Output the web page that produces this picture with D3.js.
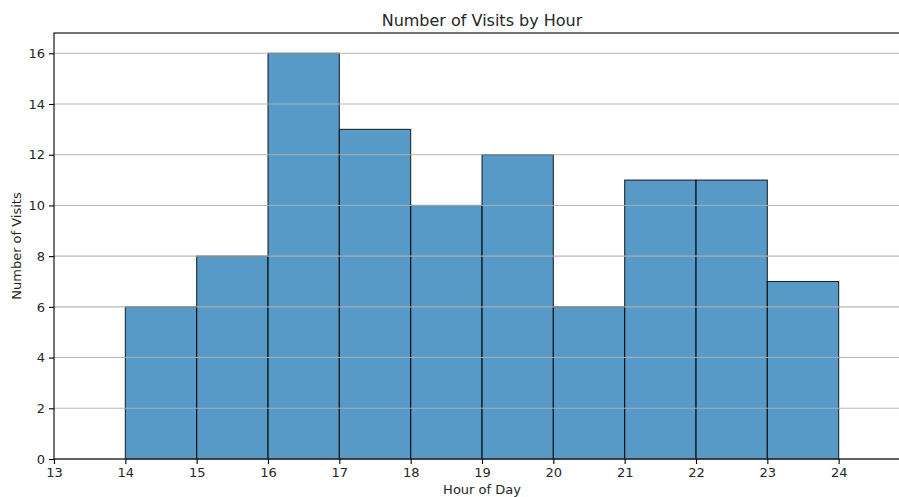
<!DOCTYPE html>
<html>
<head>
<meta charset="utf-8">
<script src="https://cdn.jsdelivr.net/npm/d3@7"></script>
<style>
  body { margin: 0; background: #fff; }
  svg text { font-family: "DejaVu Sans", sans-serif; fill: #262626; }
</style>
</head>
<body>
<svg id="chart" width="899" height="497"></svg>
<script>
// histogram bins (left edge of each hour) and counts
var binStarts = [14, 15, 16, 17, 18, 19, 20, 21, 22, 23];
var visitCounts = [6, 8, 16, 13, 10, 12, 6, 11, 11, 7];
var xTicks = [13, 14, 15, 16, 17, 18, 19, 20, 21, 22, 23, 24];
var yTicks = [0, 2, 4, 6, 8, 10, 12, 14, 16];

var svg = d3.select("#chart");
// plot area edges (right spine falls outside the picture)
var plotL = 54, plotT = 33, plotB = 459, plotR = 910;

var x = d3.scaleLinear().domain([13, 25]).range([plotL, plotR]);
var y = d3.scaleLinear().domain([0, 16.8]).range([plotB, plotT]);

svg.append("g")
    .selectAll("rect")
    .data(binStarts)
    .enter().append("rect")
    .attr("x", function(d) { return x(d); })
    .attr("width", function(d) { return x(d + 1) - x(d); })
    .attr("y", function(d, i) { return y(visitCounts[i]); })
    .attr("height", function(d, i) { return y(0) - y(visitCounts[i]); })
    .attr("fill", "#1f77b4")
    .attr("fill-opacity", 0.75)
    .attr("stroke", "#000")
    .attr("stroke-opacity", 0.8)
    .attr("stroke-width", 1.1);

// horizontal grid drawn over the bars
svg.append("g")
    .selectAll("line")
    .data(yTicks)
    .enter().append("line")
    .attr("x1", plotL).attr("x2", plotR)
    .attr("y1", function(d) { return y(d); })
    .attr("y2", function(d) { return y(d); })
    .attr("stroke", "#b0b0b0")
    .attr("stroke-opacity", 0.9)
    .attr("stroke-width", 1.1);

var xAxis = svg.append("g")
    .attr("transform", "translate(0," + plotB + ")")
    .call(d3.axisBottom(x).tickValues(xTicks).tickFormat(d3.format("d")).tickSize(5).tickPadding(4));

var yAxis = svg.append("g")
    .attr("transform", "translate(" + plotL + ",0)")
    .call(d3.axisLeft(y).tickValues(yTicks).tickFormat(d3.format("d")).tickSize(5).tickPadding(4));

[xAxis, yAxis].forEach(function(a) {
    a.select(".domain").remove();
    a.selectAll("line").attr("stroke", "#000").attr("stroke-width", 1.1);
    a.selectAll("text").style("font-size", "13px").attr("fill", "#262626");
});

// spines
svg.append("rect")
    .attr("x", plotL).attr("y", plotT)
    .attr("width", plotR - plotL).attr("height", plotB - plotT)
    .attr("fill", "none")
    .attr("stroke", "#000")
    .attr("stroke-width", 1.1);

svg.append("text")
    .attr("x", 482).attr("y", 26)
    .attr("text-anchor", "middle")
    .style("font-size", "16px")
    .text("Number of Visits by Hour");

svg.append("text")
    .attr("x", 482).attr("y", 494)
    .attr("text-anchor", "middle")
    .style("font-size", "13px")
    .text("Hour of Day");

svg.append("text")
    .attr("transform", "translate(21," + ((plotT + plotB) / 2) + ") rotate(-90)")
    .attr("text-anchor", "middle")
    .style("font-size", "13px")
    .text("Number of Visits");
</script>
</body>
</html>
